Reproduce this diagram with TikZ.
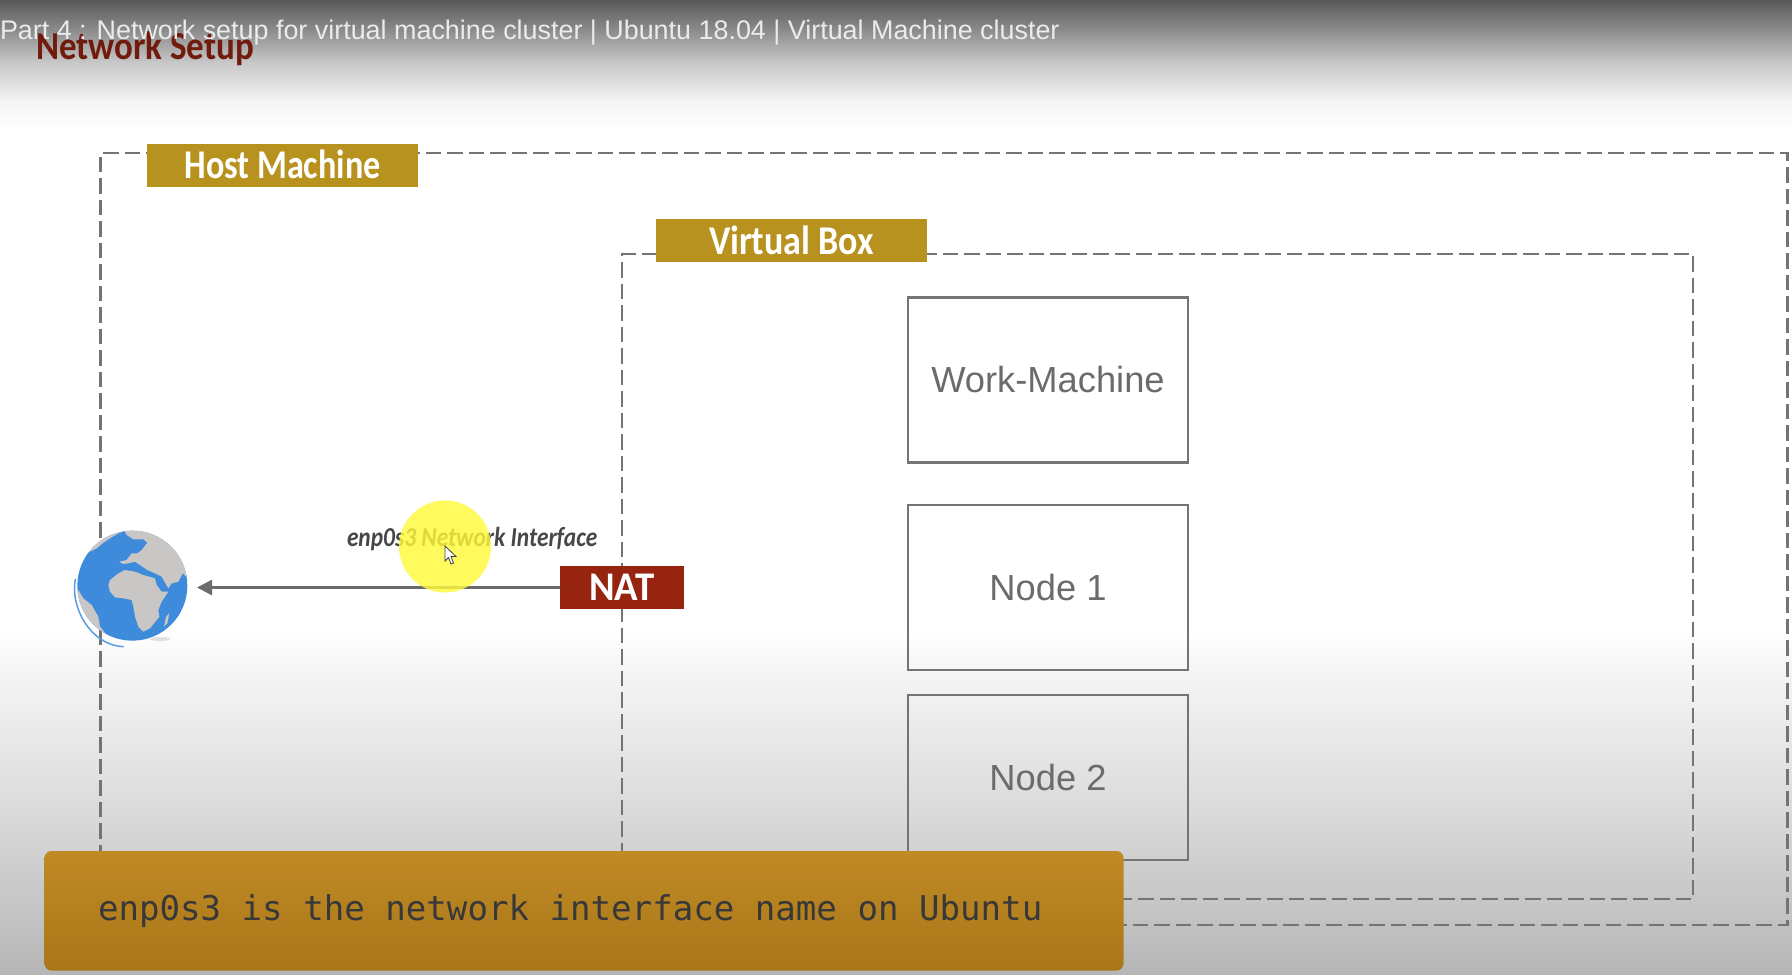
\documentclass[tikz,border=0pt]{standalone}
\usepackage{fontspec}
\setmainfont{Liberation Sans}
\newfontfamily\labelfont{Carlito}
\newfontfamily\codefont{DejaVu Sans Mono}
\usetikzlibrary{arrows.meta}
\definecolor{gold}{HTML}{B8921F}
\definecolor{natred}{HTML}{96240F}
\definecolor{linegrey}{HTML}{747474}
\definecolor{oceanblue}{HTML}{3E8BDC}
\definecolor{landgrey}{HTML}{C9C7C5}
\definecolor{barTop}{HTML}{C08A25}
\definecolor{barBot}{HTML}{A97719}
\definecolor{marker}{HTML}{FFF93A}
\tikzset{
  x=1pt,y=-1pt,
  zone/.style={draw=linegrey,line width=2.6pt,dash pattern=on 15.5pt off 6pt,fill=none,inner sep=0pt,outer sep=0pt},
  vmbox/.style={draw=linegrey,line width=2.4pt,inner sep=0pt,outer sep=0pt,minimum width=280pt,minimum height=165pt,text=black!58,font=\fontsize{36.3}{42}\selectfont},
  tag/.style={fill=gold,text=white,inner sep=0pt,outer sep=0pt,minimum width=271pt,minimum height=43pt,font=\labelfont\bfseries\fontsize{34}{40}\selectfont},
  freetext/.style={inner sep=0pt,outer sep=0pt,anchor=base west},
}
\begin{document}
\begin{tikzpicture}
\useasboundingbox (0,0) rectangle (1792,975);
% background
\fill[white] (0,0) rectangle (1792,975);
\shade[top color=black!65,bottom color=black!42,draw=none] (0,0) rectangle (1792,35);
\shade[top color=black!42,bottom color=black!22,draw=none] (0,34.5) rectangle (1792,62);
\shade[top color=black!22,bottom color=black!4,draw=none] (0,61.5) rectangle (1792,102);
\shade[top color=black!4,bottom color=white,draw=none] (0,101.5) rectangle (1792,130);
\shade[top color=white,bottom color=black!3,draw=none] (0,630) rectangle (1792,660);
\shade[top color=black!3,bottom color=black!15,draw=none] (0,659.5) rectangle (1792,820);
\shade[top color=black!15,bottom color=black!29,draw=none] (0,819.5) rectangle (1792,975);

% dashed zones
\node[zone,minimum width=1687pt,minimum height=772pt] (host) at (944,539) {};
\node[zone,minimum width=1071pt,minimum height=645pt] (vbox) at (1157.5,576.5) {};

% tags
\node[tag] (hosttag) at (282.5,165) {\raisebox{1pt}{\scalebox{1.005}[1.2]{Host Machine}}};
\node[tag] (vboxtag) at (791.5,240.5) {\raisebox{1pt}{\scalebox{1.06}[1.2]{Virtual Box}}};

% machines
\node[vmbox] (work) at (1048,380) {Work-Machine};
\node[vmbox] (node1) at (1048,587.5) {Node 1};
\node[vmbox] (node2) at (1048,777.5) {Node 2};

% globe
\node[circle,minimum size=110pt,inner sep=0pt,outer sep=0pt] (globe) at (132,586) {};
\begin{scope}[shift={(60,520)},x=.33333pt,y=-.33333pt]
  \fill[black!12] (300,357) ellipse [x radius=30,y radius=6];
  \fill[oceanblue] (217,197) circle [radius=165];
  \begin{scope}
    \clip (217,197) circle [radius=165];
    \fill[landgrey] (195,36) -- (200,45) -- (220,58) -- (250,58) -- (262,68) -- (245,90) -- (232,100) -- (215,100) -- (200,120) -- (178,125) -- (190,132) -- (205,130) -- (225,125) -- (240,135) -- (262,150) -- (285,160) -- (305,170) -- (325,205) -- (335,190) -- (355,185) -- (368,160) -- (385,175) -- (400,100) -- (300,10) -- (195,10) -- cycle;
    \fill[landgrey] (80,100) -- (110,85) -- (130,68) -- (150,55) -- (175,40) -- (190,35) -- (150,20) -- (80,50) -- cycle;
    \fill[landgrey] (55,210) -- (70,235) -- (95,255) -- (115,290) -- (120,320) -- (140,345) -- (100,340) -- (40,260) -- cycle;
    \fill[landgrey] (150,180) -- (175,160) -- (195,150) -- (225,155) -- (250,165) -- (285,175) -- (290,195) -- (305,215) -- (325,215) -- (305,245) -- (295,270) -- (298,290) -- (270,325) -- (250,335) -- (235,320) -- (225,290) -- (220,260) -- (215,240) -- (190,235) -- (165,232) -- (150,215) -- (145,195) -- cycle;
    \fill[landgrey] (318,290) -- (328,280) -- (322,310) -- (312,320) -- cycle;
  \end{scope}
  \draw[oceanblue!85,line width=1.5pt,line cap=round] (46,178) .. controls (30,260) and (90,375) .. (190,380);
\end{scope}

% NAT and connector
\node[fill=natred,text=white,inner sep=0pt,outer sep=0pt,minimum width=123.5pt,minimum height=43pt,font=\labelfont\bfseries\fontsize{37}{42}\selectfont] (nat) at (621.75,587.5) {\scalebox{1.05}[1.1]{NAT}};
\draw[draw=black!58,line width=2.3pt,shorten >=10pt,-{Triangle[length=15pt,width=15pt]}] (nat.west) -- (nat.west -| globe.east);

% label and pointer highlight
\node[freetext,text=black!72,font=\labelfont\bfseries\itshape\fontsize{24.5}{30}\selectfont] (iface) at (347,546) {\scalebox{.955}[1.12]{enp0s3 Network Interface}};
\node[circle,fill=marker,fill opacity=.82,minimum size=92pt,inner sep=0pt] (spot) at (445,546.5) {};
\coordinate (cur) at (445,546);
\draw[black!75,fill=white,line width=.8pt,shift={(cur)}] (0,0) -- (0,15) -- (3.5,11.5) -- (6,18) -- (8.5,17) -- (6,10.5) -- (11,10.5) -- cycle;

% bottom banner
\shade[top color=barTop,bottom color=barBot,rounded corners=7pt] (44.5,851) rectangle (1123.5,970.5);
\node[freetext,text=black!78,font=\codefont\fontsize{34.1}{40}\selectfont] (note) at (98,920) {enp0s3 is the network interface name on Ubuntu};

% header
\node[freetext,text=natred!75!black,font=\labelfont\bfseries\fontsize{33}{40}\selectfont] (heading) at (36,59) {\scalebox{1.06}[1.2]{Network Setup}};
\node[freetext,text=white!92!black,font=\fontsize{26.9}{32}\selectfont] (title) at (0,39) {Part 4 : Network setup for virtual machine cluster | Ubuntu 18.04 | Virtual Machine cluster};
\end{tikzpicture}
\end{document}
